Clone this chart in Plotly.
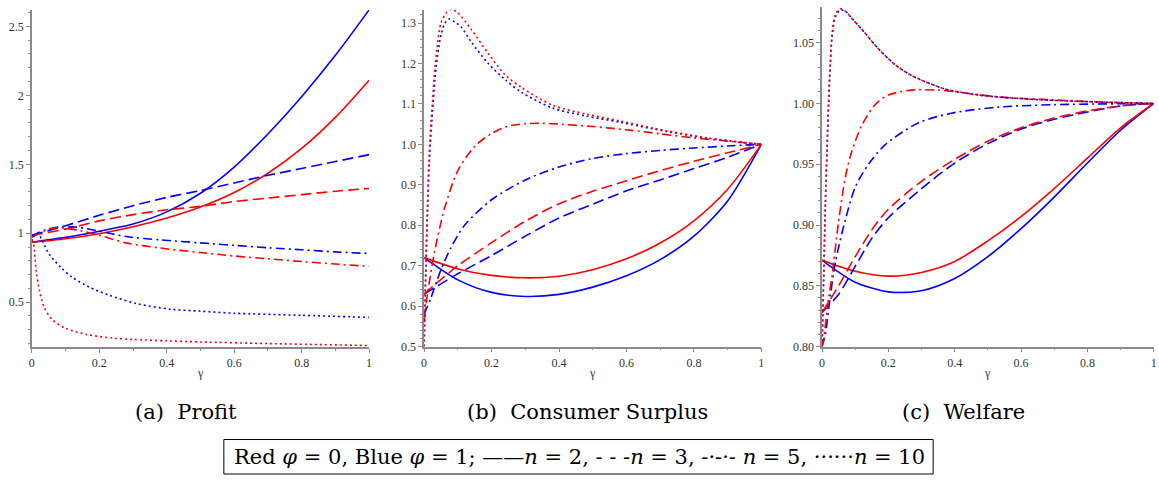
import plotly.graph_objects as go

# ---------------- data ----------------
GAMMA = [0, 0.1, 0.2, 0.3, 0.4, 0.5, 0.6, 0.7, 0.8, 0.9, 1.0]
X_TICKS = [0, 0.2, 0.4, 0.6, 0.8, 1.0]
X_TICK_TEXT = ["0", "0.2", "0.4", "0.6", "0.8", "1"]

# (a) Profit
pa_red_n2 = [0.935, 0.96, 0.997, 1.047, 1.11, 1.19, 1.295, 1.435, 1.615, 1.84, 2.11]
pa_blue_n2 = [0.935, 0.97, 1.015, 1.067, 1.155, 1.29, 1.48, 1.72, 1.99, 2.29, 2.62]
pa_red_n3 = [0.985, 1.03, 1.09, 1.135, 1.17, 1.195, 1.23, 1.255, 1.28, 1.305, 1.325]
pa_blue_n3 = [0.985, 1.055, 1.13, 1.2, 1.26, 1.31, 1.365, 1.42, 1.47, 1.52, 1.57]
pa_red_n5_g = [0, 0.05, 0.09, 0.14, 0.2, 0.28, 0.38, 0.5, 0.6, 0.7, 0.8, 0.9, 1.0]
pa_red_n5 = [0.97, 1.03, 1.04, 1.02, 0.985, 0.93, 0.893, 0.86, 0.835, 0.815, 0.795, 0.777, 0.76]
pa_blue_n5_g = [0, 0.04, 0.08, 0.13, 0.19, 0.28, 0.38, 0.5, 0.6, 0.7, 0.8, 0.9, 1.0]
pa_blue_n5 = [0.98, 1.025, 1.045, 1.045, 1.02, 0.976, 0.952, 0.93, 0.912, 0.895, 0.88, 0.865, 0.853]
pa_red_n10_g = [0, 0.005, 0.013, 0.023, 0.037, 0.062, 0.1, 0.16, 0.24, 0.3, 0.4, 0.5, 0.7, 1.0]
pa_red_n10 = [0.95, 0.92, 0.72, 0.58, 0.46, 0.37, 0.31, 0.267, 0.24, 0.23, 0.22, 0.212, 0.2, 0.186]
pa_blue_n10_g = [0, 0.008, 0.018, 0.03, 0.052, 0.087, 0.12, 0.17, 0.23, 0.31, 0.41, 0.5, 0.6, 0.8, 1.0]
pa_blue_n10 = [0.94, 0.99, 1.0, 0.95, 0.846, 0.75, 0.68, 0.61, 0.55, 0.49, 0.45, 0.435, 0.42, 0.405, 0.39]

# (b) Consumer Surplus
pb_red_n2 = [0.72, 0.692, 0.676, 0.670, 0.674, 0.69, 0.717, 0.756, 0.811, 0.889, 1.0]
pb_blue_n2 = [0.72, 0.665, 0.634, 0.624, 0.629, 0.647, 0.675, 0.715, 0.773, 0.86, 1.0]
pb_red_n3 = [0.63, 0.70, 0.757, 0.81, 0.853, 0.884, 0.91, 0.935, 0.958, 0.979, 1.0]
pb_blue_n3 = [0.63, 0.68, 0.725, 0.773, 0.818, 0.852, 0.885, 0.912, 0.94, 0.968, 1.0]
pb_red_n5_g = [0, 0.01, 0.03, 0.06, 0.1, 0.15, 0.2, 0.25, 0.3, 0.35, 0.4, 0.5, 0.6, 0.7, 0.8, 0.9, 1.0]
pb_red_n5 = [0.56, 0.63, 0.73, 0.84, 0.935, 0.995, 1.027, 1.045, 1.051, 1.052, 1.05, 1.044, 1.036, 1.026, 1.016, 1.008, 1.0]
pb_blue_n5_g = [0, 0.02, 0.05, 0.08, 0.12, 0.2, 0.3, 0.4, 0.5, 0.6, 0.7, 0.8, 0.9, 1.0]
pb_blue_n5 = [0.58, 0.62, 0.69, 0.745, 0.80, 0.863, 0.912, 0.944, 0.965, 0.977, 0.985, 0.991, 0.996, 1.0]
pb_red_n10_g = [0, 0.005, 0.01, 0.015, 0.02, 0.025, 0.032, 0.04, 0.05, 0.065, 0.08, 0.1, 0.14,
                0.19, 0.24, 0.29, 0.38, 0.48, 0.58, 0.68, 0.84, 1.0]
pb_red_n10 = [0.5, 0.7, 0.85, 0.975, 1.05, 1.11, 1.19, 1.25, 1.30, 1.324, 1.334, 1.325, 1.284,
              1.225, 1.172, 1.14, 1.097, 1.075, 1.058, 1.04, 1.016, 1.0]
pb_blue_n10_g = [0, 0.005, 0.01, 0.015, 0.02, 0.025, 0.032, 0.04, 0.05, 0.06, 0.074, 0.09, 0.11,
                 0.14, 0.19, 0.24, 0.29, 0.38, 0.48, 0.58, 0.68, 0.84, 1.0]
pb_blue_n10 = [0.5, 0.68, 0.83, 0.95, 1.02, 1.08, 1.16, 1.22, 1.27, 1.297, 1.31, 1.303, 1.29,
               1.253, 1.2, 1.16, 1.128, 1.09, 1.07, 1.055, 1.038, 1.015, 1.0]

# (c) Welfare
pc_red_n2 = [0.871, 0.862, 0.858, 0.861, 0.870, 0.887, 0.907, 0.930, 0.955, 0.980, 1.0]
pc_blue_n2 = [0.871, 0.853, 0.845, 0.846, 0.856, 0.874, 0.897, 0.923, 0.951, 0.978, 1.0]
pc_n3_g = [0, 0.05, 0.1, 0.15, 0.2, 0.3, 0.4, 0.5, 0.6, 0.7, 0.8, 0.9, 1.0]
pc_red_n3 = [0.828, 0.85, 0.874, 0.896, 0.913, 0.936, 0.954, 0.969, 0.98, 0.988, 0.994, 0.998, 1.0]
pc_blue_n3 = [0.828, 0.843, 0.866, 0.889, 0.906, 0.93, 0.951, 0.967, 0.979, 0.987, 0.993, 0.998, 1.0]
pc_red_n5_g = [0, 0.005, 0.02, 0.03, 0.05, 0.07, 0.09, 0.12, 0.16, 0.2, 0.27, 0.35, 0.45, 0.55, 0.7, 0.85, 1.0]
pc_red_n5 = [0.80, 0.807, 0.84, 0.858, 0.903, 0.939, 0.961, 0.982, 0.999, 1.007, 1.011, 1.011,
             1.008, 1.005, 1.003, 1.001, 1.0]
pc_blue_n5_g = [0, 0.01, 0.02, 0.04, 0.07, 0.1, 0.14, 0.19, 0.29, 0.39, 0.53, 0.7, 1.0]
pc_blue_n5 = [0.80, 0.81, 0.831, 0.869, 0.904, 0.931, 0.95, 0.966, 0.984, 0.992, 0.997, 0.999, 1.0]
pc_n10_g = [0, 0.005, 0.01, 0.015, 0.02, 0.025, 0.03, 0.04, 0.055, 0.07, 0.09, 0.12, 0.17, 0.22,
            0.27, 0.37, 0.47, 0.6, 0.75, 1.0]
pc_red_n10 = [0.80, 0.86, 0.92, 0.965, 1.005, 1.035, 1.057, 1.073, 1.078, 1.076, 1.07, 1.061,
              1.045, 1.032, 1.023, 1.012, 1.007, 1.004, 1.002, 1.0]
pc_blue_n10 = [0.80, 0.855, 0.915, 0.96, 1.0, 1.031, 1.054, 1.071, 1.077, 1.076, 1.07, 1.061,
               1.045, 1.032, 1.023, 1.012, 1.007, 1.004, 1.002, 1.0]

CAPTIONS = ["(a)  Profit", "(b)  Consumer Surplus", "(c)  Welfare"]
LEGEND_TEXT = ("Red <i>φ</i> = 0, Blue <i>φ</i> = 1; ——<i>n</i> = 2, - - -<i>n</i> = 3, "
               "-·-·- <i>n</i> = 5, ······<i>n</i> = 10")

# ---------------- styling ----------------
W, H = 1159, 482
RED, BLUE = "#ff0000", "#0000ff"
DASH = {"n2": "solid", "n3": "11px,5px", "n5": "9px,4px,2px,4px", "n10": "2px,3px"}
SERIF = "Liberation Serif"
TEXT_SERIF = "DejaVu Serif"

panels = [
    dict(px=(29, 368), py=(10, 352), yr=[0.176, 2.62],
         yt=[0.5, 1, 1.5, 2, 2.5], ytt=["0.5", "1", "1.5", "2", "2.5"], ym=0.1,
         series=[("n2", GAMMA, pa_blue_n2, GAMMA, pa_red_n2),
                 ("n3", GAMMA, pa_blue_n3, GAMMA, pa_red_n3),
                 ("n5", pa_blue_n5_g, pa_blue_n5, pa_red_n5_g, pa_red_n5),
                 ("n10", pa_blue_n10_g, pa_blue_n10, pa_red_n10_g, pa_red_n10)]),
    dict(px=(423.3, 762.3), py=(10, 351.7), yr=[0.5, 1.3325],
         yt=[0.5, 0.6, 0.7, 0.8, 0.9, 1.0, 1.1, 1.2, 1.3],
         ytt=["0.5", "0.6", "0.7", "0.8", "0.9", "1.0", "1.1", "1.2", "1.3"], ym=0.02,
         series=[("n2", GAMMA, pb_blue_n2, GAMMA, pb_red_n2),
                 ("n3", GAMMA, pb_blue_n3, GAMMA, pb_red_n3),
                 ("n5", pb_blue_n5_g, pb_blue_n5, pb_red_n5_g, pb_red_n5),
                 ("n10", pb_blue_n10_g, pb_blue_n10, pb_red_n10_g, pb_red_n10)]),
    dict(px=(823.3, 1156.7), py=(6.7, 351.7), yr=[0.8, 1.0797],
         yt=[0.80, 0.85, 0.90, 0.95, 1.00, 1.05],
         ytt=["0.80", "0.85", "0.90", "0.95", "1.00", "1.05"], ym=0.01,
         series=[("n2", GAMMA, pc_blue_n2, GAMMA, pc_red_n2),
                 ("n3", pc_n3_g, pc_blue_n3, pc_n3_g, pc_red_n3),
                 ("n5", pc_blue_n5_g, pc_blue_n5, pc_red_n5_g, pc_red_n5),
                 ("n10", pc_n10_g, pc_blue_n10, pc_n10_g, pc_red_n10)]),
]
caption_x = [184, 588, 966]

fig = go.Figure()
layout = dict(width=W, height=H, margin=dict(l=0, r=0, t=0, b=0),
              paper_bgcolor="white", plot_bgcolor="white", showlegend=False,
              annotations=[], shapes=[])

for i, p in enumerate(panels):
    k = "" if i == 0 else str(i + 1)
    xa, ya = "x" + k, "y" + k
    for key, bg, bv, rg, rv in p["series"]:
        for g, v, c in ((bg, bv, BLUE), (rg, rv, RED)):
            fig.add_trace(go.Scatter(x=g, y=v, mode="lines", xaxis=xa, yaxis=ya,
                                     line=dict(color=c, width=1.6, dash=DASH[key],
                                               shape="spline", smoothing=0.8),
                                     hoverinfo="skip"))
    axcommon = dict(showgrid=False, zeroline=False, showline=True, linecolor="#8a8a8a",
                    linewidth=1.5, ticks="outside", ticklen=4, tickcolor="#8a8a8a",
                    tickfont=dict(family=SERIF, size=12, color="#333333"))
    layout["xaxis" + k] = dict(domain=[p["px"][0] / W, p["px"][1] / W], range=[0, 1],
                               anchor=ya, tickmode="array", tickvals=X_TICKS,
                               ticktext=X_TICK_TEXT,
                               minor=dict(dtick=0.1, tick0=0, ticks="outside", ticklen=2,
                                          tickcolor="#8a8a8a"),
                               **axcommon)
    layout["yaxis" + k] = dict(domain=[1 - p["py"][1] / H, 1 - p["py"][0] / H], range=p["yr"],
                               anchor=xa, tickmode="array", tickvals=p["yt"], ticktext=p["ytt"],
                               minor=dict(dtick=p["ym"], tick0=0, ticks="outside", ticklen=2,
                                          tickcolor="#8a8a8a"),
                               **axcommon)
    cx = (p["px"][0] + p["px"][1]) / 2
    layout["annotations"].append(dict(text="γ", x=cx / W, y=1 - 378 / H, xref="paper",
                                      yref="paper", showarrow=False, xanchor="center",
                                      yanchor="middle",
                                      font=dict(family=SERIF, size=12, color="#333333")))
    layout["annotations"].append(dict(text=CAPTIONS[i], x=caption_x[i] / W, y=1 - 418 / H,
                                      xref="paper", yref="paper", showarrow=False,
                                      xanchor="center", yanchor="middle",
                                      font=dict(family=TEXT_SERIF, size=21, color="black")))

layout["shapes"].append(dict(type="rect", xref="paper", yref="paper",
                             x0=222 / W, x1=935 / W, y0=1 - 481 / H, y1=1 - 446 / H,
                             line=dict(color="black", width=1)))
layout["annotations"].append(dict(text=LEGEND_TEXT, x=579 / W, y=1 - 464 / H, xref="paper",
                                  yref="paper", showarrow=False, xanchor="center",
                                  yanchor="middle",
                                  font=dict(family=TEXT_SERIF, size=21, color="black")))

fig.update_layout(**layout)
fig.write_html("out.html")
